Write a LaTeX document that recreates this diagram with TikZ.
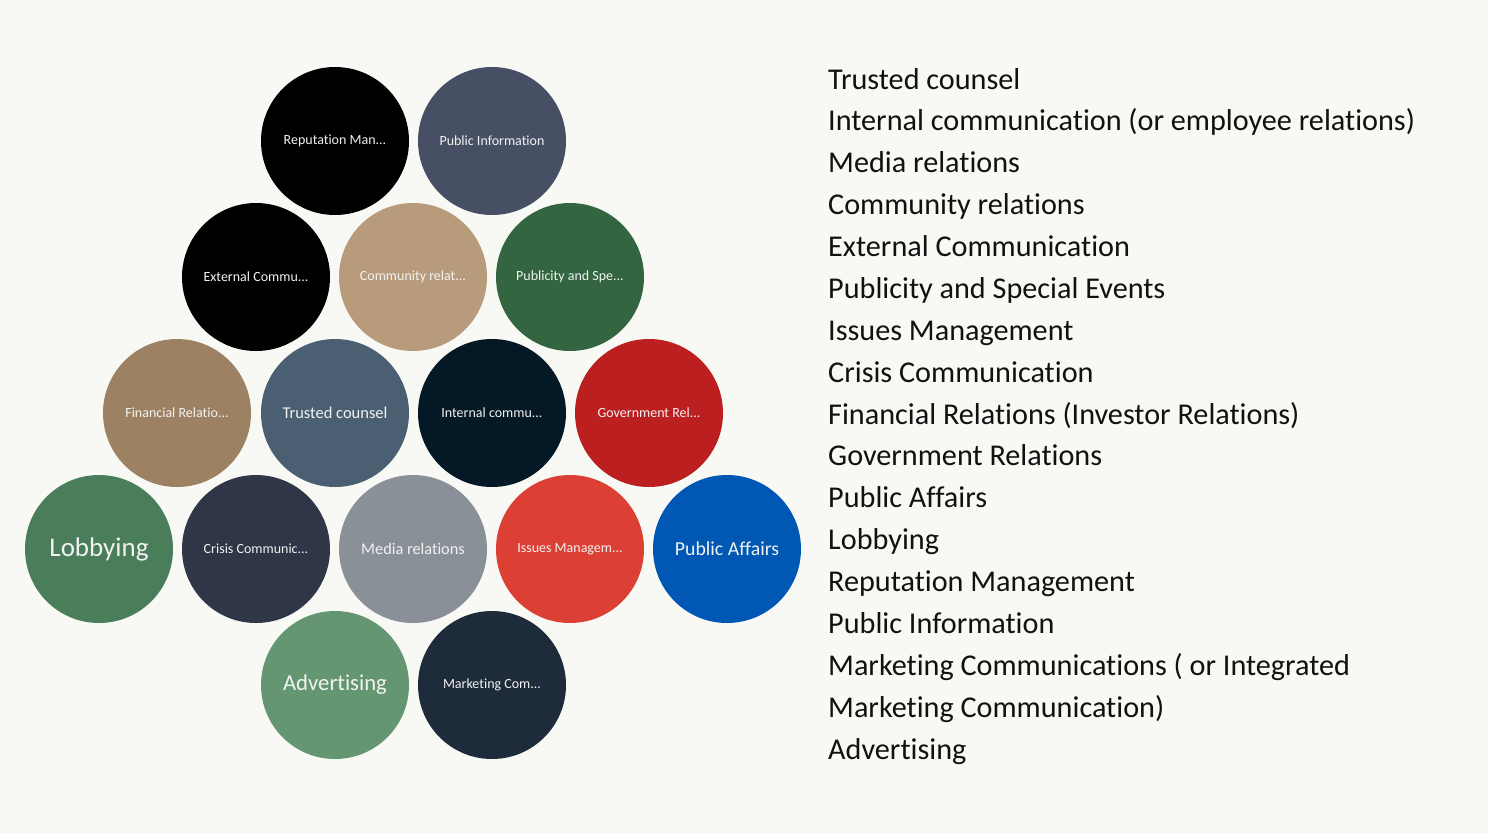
\documentclass[tikz,border=0pt]{standalone}
\usepackage{fontspec}
\setmainfont[Ligatures=NoCommon]{Carlito}
\definecolor{bg}{HTML}{F8F8F4}
\definecolor{txt}{HTML}{F2F2F2}
\definecolor{cRep}{HTML}{000000}
\definecolor{cPubInf}{HTML}{464F63}
\definecolor{cExt}{HTML}{000000}
\definecolor{cCom}{HTML}{B89B7A}
\definecolor{cPubSp}{HTML}{336640}
\definecolor{cFin}{HTML}{9C8262}
\definecolor{cTrust}{HTML}{4A6072}
\definecolor{cInt}{HTML}{051826}
\definecolor{cGov}{HTML}{BC1F1F}
\definecolor{cLob}{HTML}{4A7E5A}
\definecolor{cCri}{HTML}{2E3647}
\definecolor{cMed}{HTML}{8A9098}
\definecolor{cIss}{HTML}{DC4035}
\definecolor{cPA}{HTML}{0058B4}
\definecolor{cAdv}{HTML}{649672}
\definecolor{cMkt}{HTML}{1E2B3B}
\definecolor{listc}{HTML}{111111}
\newcommand{\fsz}[1]{\fontsize{#1pt}{#1pt}\selectfont}
\begin{document}
\begin{tikzpicture}[x=1pt,y=-1pt,
  bubble/.style={circle,minimum size=148pt,inner sep=0pt,fill=#1,text=txt,font=\fsz{14}},
  item/.style={anchor=base west,inner sep=0pt,text=listc,font=\fsz{30.2}}]
\fill[bg] (0,0) rectangle (1488,833);
\useasboundingbox (0,0) rectangle (1488,833);
% row 1
\node[bubble=cRep] (rep) at (335,141) {Reputation Man...};
\node[bubble=cPubInf] (pinf) at (492,141) {Public Information};
% row 2
\node[bubble=cExt] (ext) at (256,277) {External Commu...};
\node[bubble=cCom] (com) at (413,277) {Community relat...};
\node[bubble=cPubSp] (pse) at (570,277) {Publicity and Spe...};
% row 3
\node[bubble=cFin] (fin) at (177,413) {Financial Relatio...};
\node[bubble=cTrust,font=\fsz{16.5}] (tru) at (335,413) {Trusted counsel};
\node[bubble=cInt] (int) at (492,413) {Internal commu...};
\node[bubble=cGov] (gov) at (649,413) {Government Rel...};
% row 4
\node[bubble=cLob,font=\fsz{27}] (lob) at (99,549) {Lobbying};
\node[bubble=cCri] (cri) at (256,549) {Crisis Communic...};
\node[bubble=cMed,font=\fsz{16.3}] (med) at (413,549) {Media relations};
\node[bubble=cIss] (iss) at (570,549) {Issues Managem...};
\node[bubble=cPA,font=\fsz{19.8}] (pa) at (727,549) {Public Affairs};
% row 5
\node[bubble=cAdv,font=\fsz{22.7}] (adv) at (335,685) {Advertising};
\node[bubble=cMkt] (mkt) at (492,685) {Marketing Com...};
% list
\node[item] (l1) at (828,89.0) {Trusted counsel};
\node[item] (l2) at (828,130.9) {Internal communication (or employee relations)};
\node[item] (l3) at (828,172.8) {Media relations};
\node[item] (l4) at (828,214.6) {Community relations};
\node[item] (l5) at (828,256.5) {External Communication};
\node[item] (l6) at (828,298.4) {Publicity and Special Events};
\node[item] (l7) at (828,340.3) {Issues Management};
\node[item] (l8) at (828,382.1) {Crisis Communication};
\node[item] (l9) at (828,424.0) {Financial Relations (Investor Relations)};
\node[item] (l10) at (828,465.9) {Government Relations};
\node[item] (l11) at (828,507.8) {Public Affairs};
\node[item] (l12) at (828,549.6) {Lobbying};
\node[item] (l13) at (828,591.5) {Reputation Management};
\node[item] (l14) at (828,633.4) {Public Information};
\node[item] (l15) at (828,675.3) {Marketing Communications ( or Integrated};
\node[item] (l16) at (828,717.1) {Marketing Communication)};
\node[item] (l17) at (828,759.0) {Advertising};
\end{tikzpicture}
\end{document}
